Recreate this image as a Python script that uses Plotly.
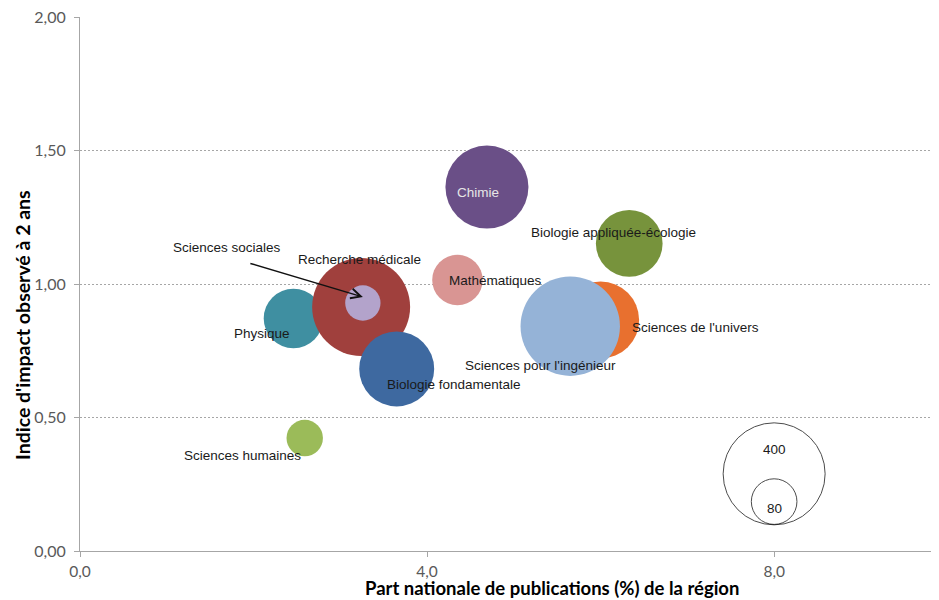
import plotly.graph_objects as go

# ---- data ----
disciplines = ["Physique", "Recherche médicale", "Sciences sociales", "Biologie fondamentale",
               "Mathématiques", "Chimie", "Biologie appliquée-écologie", "Sciences de l'univers",
               "Sciences pour l'ingénieur", "Sciences humaines"]
part_nationale = [2.46, 3.24, 3.26, 3.65, 4.35, 4.69, 6.33, 6.00, 5.65, 2.59]
indice_impact = [0.871, 0.914, 0.929, 0.682, 1.015, 1.363, 1.152, 0.865, 0.842, 0.423]
taille = [136, 369, 48, 216, 98, 265, 171, 228, 380, 51]
couleurs = ["#3F8FA1", "#A0403D", "#B3A3CB", "#3E69A0", "#D99593", "#6A4F87",
            "#77933C", "#E8702F", "#95B3D7", "#9BBB59"]

legend_sizes = [400, 80]
legend_x = [8.0, 8.0]
legend_y = [0.289, 0.185]

x_ticks = [0, 4, 8]
y_ticks = [0, 0.5, 1.0, 1.5, 2.0]

# label offsets (px) relative to bubble centre: (dx, dy downwards)
label_offsets = {
    "Physique": (-31, 15), "Recherche médicale": (-2, -47), "Sciences sociales": (-136, -55),
    "Biologie fondamentale": (57, 16), "Mathématiques": (38, 0), "Chimie": (-9, 5),
    "Biologie appliquée-écologie": (-16, -11), "Sciences de l'univers": (95, 7),
    "Sciences pour l'ingénieur": (-30, 39), "Sciences humaines": (-62, 17),
}

SIZEREF = 2 * 400 / (102 ** 2)

# page body has an 8px default margin: compensate so the plot lands where the reference has it
BODY = 8
L, T, B = 80 - BODY, 17 - BODY, 49
W, H = 939 - BODY, 600 - BODY
PW, PH = W - L, H - T - B   # plot area size (859 x 534)

fig = go.Figure()
for name, x, y, s, c in zip(disciplines, part_nationale, indice_impact, taille, couleurs):
    fig.add_trace(go.Scatter(
        x=[x], y=[y], mode="markers", name=name,
        marker=dict(size=[s], sizemode="area", sizeref=SIZEREF, color=c, opacity=1,
                    line=dict(width=0)),
        hoverinfo="name", showlegend=False))

fig.add_trace(go.Scatter(
    x=legend_x, y=legend_y, mode="markers",
    marker=dict(size=legend_sizes, sizemode="area", sizeref=SIZEREF,
                color="rgba(255,255,255,0)", line=dict(width=1, color="#000000")),
    hoverinfo="skip", showlegend=False))

label_font = dict(family="Liberation Sans, Arial, sans-serif", size=13.5, color="#1a1a1a")
for name, x, y in zip(disciplines, part_nationale, indice_impact):
    dx, dy = label_offsets[name]
    f = dict(label_font)
    if name == "Chimie":
        f["color"] = "#E6E6E6"
    fig.add_annotation(x=x, y=y, text=name, showarrow=False, xshift=dx, yshift=-dy,
                       font=f, xanchor="center", yanchor="middle")

# arrow for Sciences sociales
i_soc = disciplines.index("Sciences sociales")
fig.add_annotation(x=part_nationale[i_soc], y=indice_impact[i_soc], text="", showarrow=True,
                   ax=-114, ay=-34, axref="pixel", ayref="pixel", yshift=6,
                   arrowhead=5, arrowsize=1.3, arrowwidth=1.5, arrowcolor="#111111", standoff=0)

for s, x, y, dy in zip(legend_sizes, legend_x, legend_y, [-24, 7]):
    fig.add_annotation(x=x, y=y, text=str(s), showarrow=False, yshift=-dy,
                       font=dict(family="Liberation Sans, Arial, sans-serif", size=13.5,
                                 color="#1a1a1a"))

fig.update_layout(
    width=W, height=H,
    margin=dict(l=L, r=0, t=T, b=B),
    plot_bgcolor="white", paper_bgcolor="white",
    separators=", ",
    xaxis=dict(range=[0, 9.9], tickvals=x_ticks, tickformat=".1f", showgrid=False,
               zeroline=False, showline=True, linecolor="#A6A6A6", linewidth=1,
               ticks="outside", ticklen=5, tickcolor="#A6A6A6", ticklabelstandoff=1,
               ticklabeloverflow="allow",
               tickfont=dict(family="Lato, sans-serif", size=15.5, color="#595959")),
    yaxis=dict(range=[0, 2], tickvals=y_ticks, tickformat=".2f", showgrid=True,
               gridcolor="#A6A6A6", gridwidth=1, griddash="2px,2px",
               zeroline=False, showline=True, linecolor="#A6A6A6", linewidth=1,
               ticks="outside", ticklen=5, tickcolor="#A6A6A6", ticklabelstandoff=5,
               ticklabeloverflow="allow",
               tickfont=dict(family="Lato, sans-serif", size=16, color="#595959")),
)

fig.add_annotation(xref="paper", yref="paper", x=(552 - 80) / PW, y=-(588 - 551) / PH,
                   text="<b>Part nationale de publications (%) de la région</b>", showarrow=False,
                   xanchor="center", yanchor="middle",
                   font=dict(family="Lato, sans-serif", size=18.5, color="#000000"))
fig.add_annotation(xref="paper", yref="paper", x=-(80 - 22) / PW, y=(551 - 325) / PH,
                   text="<b>Indice d'impact observé à 2 ans</b>", showarrow=False, textangle=-90,
                   xanchor="center", yanchor="middle",
                   font=dict(family="Lato, sans-serif", size=19.5, color="#000000"))

fig.write_html("out.html")
